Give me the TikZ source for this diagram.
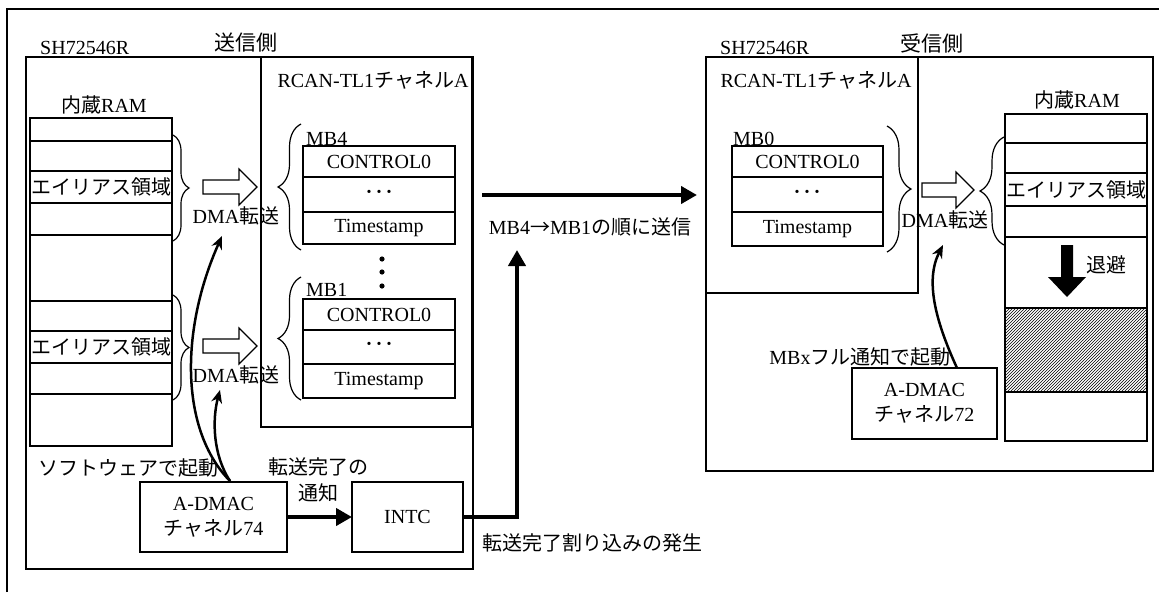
\documentclass[tikz,border=0pt]{standalone}
\usepackage{fontspec}
\setmainfont{Liberation Serif}
\newfontfamily\jp{Noto Sans CJK JP}
\usetikzlibrary{decorations.pathreplacing,arrows.meta,patterns,calc}
\newcommand\blkarrow[3]{%
  \draw[hollow] (#1,#3-7) -- (#2-18,#3-7) -- (#2-18,#3-18) -- (#2,#3) -- (#2-18,#3+18) -- (#2-18,#3+7) -- (#1,#3+7) -- cycle;}
\newcommand\mydots{{\jp ･･･}}
\begin{document}
\begin{tikzpicture}[x=1pt,y=-1pt,
  every node/.append style={font=\fontsize{20}{24}\selectfont},
  box/.style={draw,line width=1.2pt,inner sep=0pt,outer sep=0pt,anchor=north west},
  lbl/.style={inner sep=0pt},
  jpn/.style={font=\fontsize{20}{24}\selectfont\jp},
  brc/.style={decorate,decoration={brace,amplitude=#1},line width=1.2pt},
  thickarrow/.style={line width=4.5pt,-{Triangle[length=16pt,width=17pt]}},
  curvearrow/.style={line width=2.5pt,-{Stealth[length=13pt,width=11pt]}},
  hollow/.style={draw,line width=1.2pt,fill=white},
]
\useasboundingbox (0,0) rectangle (1159,592);
% outer frame
\draw[line width=2pt] (7,592) -- (7,9) -- (1159,9);

% ===== sender =====
\node[box,minimum width=447pt,minimum height=512pt] (shS) at (26,57) {};
\node[box,minimum width=211pt,minimum height=370pt] (rcanS) at (261,57) {};
\node[lbl,anchor=base west] (shSl) at (40,54) {SH72546R};
\node[lbl,font=\fontsize{21}{24}\selectfont\jp] (sendl) at (246,43) {送信側};
\node[lbl] (rcanSl) at (373,80) {RCAN-TL1{\jp チャネル}A};

% left RAM
\node[lbl] (ramLl) at (104,105) {{\jp 内蔵}RAM};
\node[box,minimum width=142pt,minimum height=23pt] (lr1) at (30,118) {};
\node[box,minimum width=142pt,minimum height=30pt] (lr2) at (30,141) {};
\node[box,minimum width=142pt,minimum height=32pt,jpn] (lr3) at (30,171) {エイリアス領域};
\node[box,minimum width=142pt,minimum height=32pt] (lr4) at (30,203) {};
\node[box,minimum width=142pt,minimum height=66pt] (lr5) at (30,235) {};
\node[box,minimum width=142pt,minimum height=30pt] (lr6) at (30,301) {};
\node[box,minimum width=142pt,minimum height=32pt,jpn] (lr7) at (30,331) {エイリアス領域};
\node[box,minimum width=142pt,minimum height=31pt] (lr8) at (30,363) {};
\node[box,minimum width=142pt,minimum height=52pt] (lr9) at (30,394) {};

\draw[brc=16pt] (173,135) -- (173,241);
\draw[brc=16pt] (173,295) -- (173,400);
\blkarrow{203}{257}{187}
\blkarrow{203}{257}{346}
\node[lbl] (dma1) at (236,216) {DMA{\jp 転送}};
\node[lbl] (dma2) at (236,375) {DMA{\jp 転送}};

% MB4
\draw[brc=23pt] (301,250) -- (301,124);
\node[lbl,anchor=base west] (mb4l) at (306,145) {MB4};
\node[box,minimum width=152pt,minimum height=31pt] (mb4a) at (303,146) {CONTROL0};
\node[box,minimum width=152pt,minimum height=35pt] (mb4b) at (303,177) {\mydots};
\node[box,minimum width=152pt,minimum height=32pt] (mb4c) at (303,212) {Timestamp};
\fill (382,259) circle (2.6pt) (382,272) circle (2.6pt) (382,286) circle (2.6pt);
% MB1
\draw[brc=23pt] (301,400) -- (301,277);
\node[lbl,anchor=base west] (mb1l) at (306,296) {MB1};
\node[box,minimum width=152pt,minimum height=31pt] (mb1a) at (303,299) {CONTROL0};
\node[box,minimum width=152pt,minimum height=34pt] (mb1b) at (303,330) {\mydots};
\node[box,minimum width=152pt,minimum height=34pt] (mb1c) at (303,364) {Timestamp};

% bottom sender
\node[lbl,jpn] (swl) at (128,468) {ソフトウェアで起動};
\node[box,minimum width=147pt,minimum height=70pt,align=center,font=\fontsize{20}{25}\selectfont] (adm74) at (140,482) {A-DMAC\\{\jp チャネル}74};
\node[box,minimum width=111pt,minimum height=70pt] (intc) at (352,482) {INTC};
\node[lbl,align=center,font=\fontsize{20}{26}\selectfont\jp] (donel) at (318,480) {転送完了の\\通知};
\node[lbl,jpn] (irql) at (592,543) {転送完了割り込みの発生};
\draw[thickarrow] (adm74.east) -- (intc.west);
\coordinate (upT) at (517,250);
\draw[thickarrow] (intc.east) -| (upT);

\coordinate (c74) at (230,481);
\coordinate (t1) at (222,236);
\coordinate (t2) at (220,390);
\draw[curvearrow] (c74) .. controls (180,430) and (180,330) .. (t1);
\draw[curvearrow] (c74) .. controls (213,455) and (212,420) .. (t2);

% main arrow
\coordinate (mainS) at (482,195);
\coordinate (mainE) at (697,195);
\draw[thickarrow] (mainS) -- (mainE);
\node[lbl] (mainT) at (590,227) {MB4{\jp →}MB1{\jp の順に送信}};

% ===== receiver =====
\node[box,minimum width=447pt,minimum height=414pt] (shR) at (706,57) {};
\node[box,minimum width=212pt,minimum height=236pt] (rcanR) at (706,57) {};
\node[lbl,anchor=base west] (shRl) at (720,54) {SH72546R};
\node[lbl,font=\fontsize{21}{24}\selectfont\jp] (recvl) at (932,43) {受信側};
\node[lbl] (rcanRl) at (816,80) {RCAN-TL1{\jp チャネル}A};

\node[lbl,anchor=base west] (mb0l) at (733,145) {MB0};
\node[box,minimum width=151pt,minimum height=31pt] (mb0a) at (732,146) {CONTROL0};
\node[box,minimum width=151pt,minimum height=35pt] (mb0b) at (732,177) {\mydots};
\node[box,minimum width=151pt,minimum height=34pt] (mb0c) at (732,212) {Timestamp};
\draw[brc=24pt] (887,126) -- (887,252);
\blkarrow{922}{974}{190}
\node[lbl] (dma3) at (945,220) {DMA{\jp 転送}};
\draw[brc=24pt] (1004,245) -- (1004,137);

\node[lbl] (ramRl) at (1077,100) {{\jp 内蔵}RAM};
\node[box,minimum width=142pt,minimum height=29pt] (rr1) at (1005,114) {};
\node[box,minimum width=142pt,minimum height=30pt] (rr2) at (1005,143) {};
\node[box,minimum width=142pt,minimum height=33pt,jpn] (rr3) at (1005,173) {エイリアス領域};
\node[box,minimum width=142pt,minimum height=31pt] (rr4) at (1005,206) {};
\node[box,minimum width=142pt,minimum height=71pt] (rr5) at (1005,237) {};
\node[box,minimum width=142pt,minimum height=84pt,pattern=north east lines] (rr6) at (1005,308) {};
\node[box,minimum width=142pt,minimum height=49pt] (rr7) at (1005,392) {};
\fill (1061,245) -- (1073,245) -- (1073,277) -- (1086,277) -- (1067,297) -- (1048,277) -- (1061,277) -- cycle;
\node[lbl,jpn] (savel) at (1106,265) {退避};

\node[lbl] (mbxl) at (860,357) {MBx{\jp フル通知で起動}};
\node[box,minimum width=145pt,minimum height=71pt,align=center,font=\fontsize{20}{25}\selectfont] (adm72) at (852,368) {A-DMAC\\{\jp チャネル}72};
\coordinate (c72) at (957,368);
\coordinate (t3) at (943,245);
\draw[curvearrow] (c72) .. controls (935,320) and (925,280) .. (t3);
\end{tikzpicture}
\end{document}
